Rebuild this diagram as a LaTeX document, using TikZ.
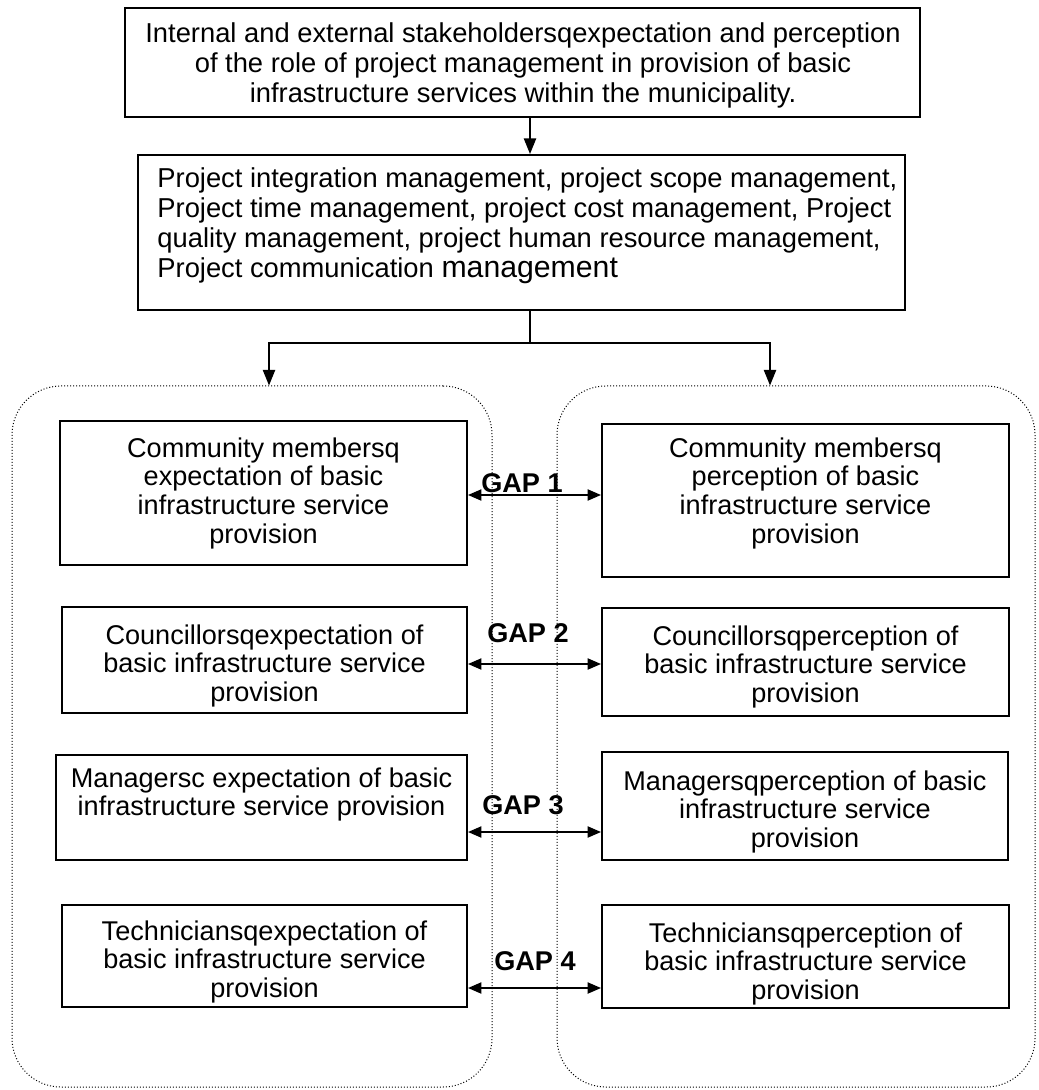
\documentclass[tikz,border=0pt]{standalone}
\usepackage{fontspec}
\setmainfont{Liberation Sans}
\usetikzlibrary{arrows.meta,fit}
\begin{document}
\begin{tikzpicture}[x=0.45pt,y=-0.45pt,
  box/.style={draw,line width=0.9pt,inner sep=0pt},
  txt/.style={inner sep=0pt,align=center,font=\fontsize{12.2}{13.0}\selectfont},
  txtb/.style={inner sep=0pt,align=center,font=\fontsize{12.3}{13.5}\selectfont},
  gaplabel/.style={inner sep=0pt,font=\fontsize{12.2}{13.4}\selectfont\bfseries},
  cont/.style={draw,line width=0.45pt,dash pattern=on 0.45pt off 0.9pt,rounded corners=22pt,inner sep=0pt},
  flow/.style={line width=0.7pt,-{Triangle[length=7pt,width=5.5pt]}},
  dbl/.style={line width=0.7pt,{Triangle[length=6pt,width=5pt]}-{Triangle[length=6pt,width=5pt]}},
]
\useasboundingbox (0,0) rectangle (1038,1090);

% containers
\node[cont,fit={(12,386)(492,1087)}] (LC) {};
\node[cont,fit={(557,386)(1035,1087)}] (RC) {};

% top boxes
\node[box,fit={(125,8)(920,117)}] (T) {};
\node[txtb,anchor=north] (Tt) at (523,22) {Internal and external stakeholdersqexpectation and perception\\of the role of project management in provision of basic\\infrastructure services within the municipality.};

\node[box,fit={(138,155)(905,310)}] (M) {};
\node[txtb,align=left,anchor=north west] (Mt) at (157,167) {Project integration management, project scope management,\\Project time management, project cost management, Project\\quality management, project human resource management,\\Project communication {\fontsize{13.6}{13.5}\selectfont management}};

% inner boxes
\node[box,fit={(60,421)(467,565)}] (L1) {};
\node[box,fit={(602,424)(1009,577)}] (R1) {};
\node[box,fit={(62,607)(467,713)}] (L2) {};
\node[box,fit={(602,608)(1009,716)}] (R2) {};
\node[box,fit={(56,755)(467,860)}] (L3) {};
\node[box,fit={(602,752)(1008,860)}] (R3) {};
\node[box,fit={(62,905)(467,1007)}] (L4) {};
\node[box,fit={(602,905)(1009,1008)}] (R4) {};

\node[txt,anchor=north] (L1t) at (263.5,437) {Community membersq\\expectation of basic\\infrastructure service\\provision};
\node[txt,anchor=north] (R1t) at (805.5,437) {Community membersq\\perception of basic\\infrastructure service\\provision};
\node[txt,anchor=north] (L2t) at (264.5,624) {Councillorsqexpectation of\\basic infrastructure service\\provision};
\node[txt,anchor=north] (R2t) at (805.5,625) {Councillorsqperception of\\basic infrastructure service\\provision};
\node[txt,anchor=north] (L3t) at (261.5,767) {Managersc expectation of basic\\infrastructure service provision};
\node[txt,anchor=north] (R3t) at (805,770) {Managersqperception of basic\\infrastructure service\\provision};
\node[txt,anchor=north] (L4t) at (264.5,920) {Techniciansqexpectation of\\basic infrastructure service\\provision};
\node[txt,anchor=north] (R4t) at (805.5,922) {Techniciansqperception of\\basic infrastructure service\\provision};

% gap labels
\node[gaplabel] (G1) at (522,483) {GAP 1};
\node[gaplabel] (G2) at (528,633) {GAP 2};
\node[gaplabel] (G3) at (523,805) {GAP 3};
\node[gaplabel] (G4) at (535,961) {GAP 4};

% coordinates
\coordinate (cx) at (530,0);
\coordinate (j) at (530,343);
\coordinate (al) at (269,0);
\coordinate (ar) at (770,0);
\coordinate (a1) at (0,495);
\coordinate (a2) at (0,664);
\coordinate (a3) at (0,832);
\coordinate (a4) at (0,988);

% connectors
\draw[flow] (T.south -| cx) -- (M.north -| cx);
\draw[line width=0.7pt] (M.south -| cx) -- (j);
\draw[flow] (j) -| (LC.north -| al);
\draw[flow] (j) -| (RC.north -| ar);

\draw[dbl] (L1.east |- a1) -- (R1.west |- a1);
\draw[dbl] (L2.east |- a2) -- (R2.west |- a2);
\draw[dbl] (L3.east |- a3) -- (R3.west |- a3);
\draw[dbl] (L4.east |- a4) -- (R4.west |- a4);
\end{tikzpicture}
\end{document}
